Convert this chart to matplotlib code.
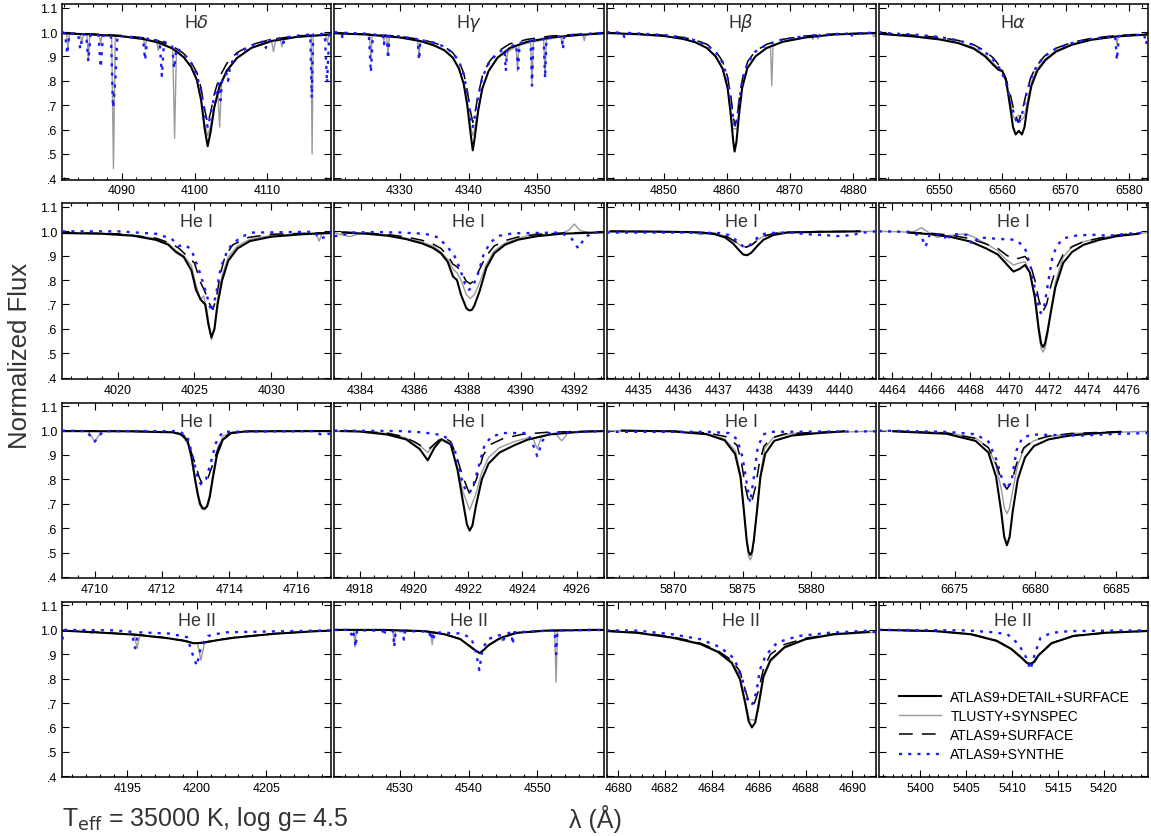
import matplotlib
matplotlib.use("Agg")
import matplotlib.pyplot as plt
from matplotlib.ticker import MultipleLocator, FixedLocator, FixedFormatter

plt.rcParams['font.family'] = ['Liberation Sans', 'DejaVu Sans']

# ---- line profiles, (wavelength [A], normalized flux) ----
# H delta
HD_DETAIL = [(4081.8, 0.995), (4086, 0.99), (4090, 0.983), (4093, 0.971), (4095, 0.957), (4097, 0.932),
             (4098.5, 0.897), (4099.5, 0.858), (4100.3, 0.805), (4100.9, 0.72), (4101.4, 0.60), (4101.8, 0.532),
             (4102.2, 0.59), (4102.7, 0.69), (4103.4, 0.775), (4104.4, 0.84), (4105.8, 0.893), (4107.8, 0.935),
             (4110.5, 0.963), (4114, 0.98), (4118.8, 0.99)]
HD_TLUSTY = [(4081.8, 0.995), (4082.4, 0.993), (4082.6, 0.935), (4082.8, 0.993), (4084.3, 0.99), (4084.5, 0.955),
             (4084.7, 0.99), (4085.2, 0.989), (4085.4, 0.885), (4085.6, 0.988), (4086.9, 0.987), (4087.1, 0.955),
             (4087.3, 0.986), (4088.6, 0.985), (4088.85, 0.44), (4089.1, 0.984), (4093.0, 0.972), (4093.2, 0.93),
             (4093.4, 0.97), (4094.8, 0.96), (4095.0, 0.925), (4095.2, 0.958), (4097.0, 0.932), (4097.25, 0.565),
             (4097.5, 0.925), (4098.5, 0.897), (4099.5, 0.858), (4100.3, 0.805), (4100.9, 0.725), (4101.4, 0.62),
             (4101.8, 0.575), (4102.2, 0.615), (4102.7, 0.69), (4103.2, 0.75), (4103.45, 0.61), (4103.7, 0.785),
             (4104.4, 0.84), (4105.8, 0.893), (4107.8, 0.935), (4110.6, 0.96), (4110.85, 0.92), (4111.1, 0.962),
             (4111.8, 0.967), (4112.0, 0.94), (4112.2, 0.968), (4114, 0.98), (4116.0, 0.985), (4116.15, 0.50),
             (4116.3, 0.986), (4118.0, 0.99), (4118.25, 0.96), (4118.5, 0.99), (4118.8, 0.99)]
HD_SURFACE = [(4081.8, 0.997), (4086, 0.992), (4090, 0.986), (4093, 0.976), (4095, 0.964), (4097, 0.942),
              (4098.5, 0.912), (4099.5, 0.878), (4100.3, 0.835), (4100.9, 0.77), (4101.4, 0.68), (4101.8, 0.625),
              (4102.2, 0.67), (4102.7, 0.745), (4103.4, 0.815), (4104.4, 0.87), (4105.8, 0.915), (4107.8, 0.948),
              (4110.5, 0.97), (4114, 0.984), (4118.8, 0.992)]
HD_SYNTHE = [(4081.8, 1.0), (4082.2, 0.995), (4082.5, 0.91), (4082.8, 0.995), (4084.0, 0.99), (4084.3, 0.93),
             (4084.6, 0.99), (4085.1, 0.99), (4085.4, 0.88), (4085.7, 0.99), (4086.8, 0.988), (4087.1, 0.855),
             (4087.4, 0.985), (4088.5, 0.985), (4088.8, 0.69), (4089.1, 0.80), (4089.4, 0.985), (4092.9, 0.975),
             (4093.2, 0.885), (4093.5, 0.973), (4095.2, 0.963), (4095.5, 0.82), (4095.8, 0.96), (4096.9, 0.945),
             (4097.2, 0.85), (4097.5, 0.935), (4098.5, 0.912), (4099.5, 0.875), (4100.3, 0.825), (4100.9, 0.755),
             (4101.4, 0.665), (4101.8, 0.61), (4102.2, 0.66), (4102.7, 0.735), (4103.3, 0.79), (4103.55, 0.72),
             (4103.8, 0.81), (4104.4, 0.83), (4104.6, 0.80), (4104.9, 0.865), (4105.8, 0.91), (4107.8, 0.945),
             (4109.5, 0.962), (4109.8, 0.935), (4110.1, 0.966), (4112, 0.975), (4112.2, 0.955), (4112.4, 0.977),
             (4114, 0.985), (4115.9, 0.99), (4116.1, 0.73), (4116.3, 0.99), (4117.9, 0.993), (4118.2, 0.79),
             (4118.5, 0.99), (4118.8, 0.995)]

# H gamma
HG_DETAIL = [(4320.5, 0.995), (4325, 0.99), (4330, 0.978), (4333, 0.963), (4335, 0.945), (4336.5, 0.925),
             (4337.7, 0.895), (4338.6, 0.85), (4339.3, 0.785), (4339.8, 0.70), (4340.3, 0.58), (4340.6, 0.515),
             (4340.9, 0.57), (4341.4, 0.68), (4342.0, 0.77), (4342.9, 0.84), (4344.2, 0.895), (4346, 0.935),
             (4348.5, 0.96), (4352, 0.978), (4356, 0.988), (4359.6, 0.995)]
HG_TLUSTY = [(4320.5, 0.996), (4321.5, 0.994), (4321.7, 0.985), (4321.9, 0.994), (4325.6, 0.99), (4325.8, 0.89),
             (4326.0, 0.99), (4327.5, 0.986), (4327.7, 0.965), (4327.9, 0.985), (4328.1, 0.985), (4328.3, 0.905),
             (4328.5, 0.984), (4330, 0.978), (4332.6, 0.966), (4332.8, 0.905), (4333.0, 0.964), (4335, 0.945),
             (4336.5, 0.925), (4337.7, 0.895), (4338.6, 0.85), (4339.3, 0.79), (4339.8, 0.71), (4340.3, 0.61),
             (4340.6, 0.575), (4340.9, 0.605), (4341.4, 0.685), (4342.0, 0.77), (4342.9, 0.84), (4344.2, 0.895),
             (4345.3, 0.915), (4345.5, 0.885), (4345.7, 0.92), (4346.9, 0.94), (4347.1, 0.84), (4347.3, 0.945),
             (4349.0, 0.958), (4349.2, 0.79), (4349.4, 0.96), (4350.9, 0.968), (4351.1, 0.82), (4351.3, 0.97),
             (4353.4, 0.98), (4353.6, 0.945), (4353.8, 0.982), (4356.6, 0.988), (4356.8, 0.965), (4357.0, 0.989),
             (4359.6, 0.995)]
HG_SURFACE = [(4320.5, 0.997), (4325, 0.992), (4330, 0.982), (4333, 0.97), (4335, 0.956), (4336.5, 0.94),
              (4337.7, 0.915), (4338.6, 0.88), (4339.3, 0.83), (4339.8, 0.76), (4340.3, 0.67), (4340.6, 0.63),
              (4340.9, 0.665), (4341.4, 0.745), (4342.0, 0.82), (4342.9, 0.875), (4344.2, 0.92), (4346, 0.952),
              (4348.5, 0.97), (4352, 0.984), (4356, 0.991), (4359.6, 0.996)]
HG_SYNTHE = [(4320.5, 1.0), (4321.5, 0.997), (4321.7, 0.975), (4321.9, 0.997), (4325.5, 0.993), (4325.8, 0.835),
             (4326.1, 0.99), (4327.5, 0.988), (4327.7, 0.95), (4327.9, 0.987), (4328.1, 0.985), (4328.3, 0.89),
             (4328.5, 0.985), (4330, 0.982), (4332.6, 0.97), (4332.8, 0.885), (4333.0, 0.968), (4335, 0.956),
             (4336.5, 0.94), (4337.7, 0.915), (4338.6, 0.88), (4339.3, 0.825), (4339.8, 0.75), (4340.3, 0.655),
             (4340.6, 0.61), (4340.9, 0.655), (4341.4, 0.74), (4342.0, 0.815), (4342.9, 0.87), (4344.2, 0.915),
             (4345.2, 0.93), (4345.4, 0.84), (4345.6, 0.935), (4346.9, 0.95), (4347.2, 0.85), (4347.4, 0.955),
             (4349.0, 0.965), (4349.2, 0.78), (4349.4, 0.966), (4350.9, 0.972), (4351.1, 0.81), (4351.3, 0.974),
             (4353.5, 0.983), (4353.7, 0.93), (4353.9, 0.985), (4356, 0.991), (4359.6, 0.996)]

# H beta
HB_DETAIL = [(4840.9, 0.996), (4846, 0.991), (4850, 0.984), (4853, 0.972), (4855, 0.958), (4856.8, 0.935),
             (4858.2, 0.9), (4859.3, 0.85), (4860.1, 0.77), (4860.6, 0.66), (4861.0, 0.55), (4861.2, 0.51),
             (4861.5, 0.55), (4861.9, 0.66), (4862.4, 0.77), (4863.2, 0.85), (4864.5, 0.9), (4866.3, 0.935),
             (4868.8, 0.96), (4872.5, 0.978), (4877, 0.99), (4883.6, 0.996)]
HB_TLUSTY = [(4840.9, 0.996), (4846, 0.991), (4850, 0.984), (4853, 0.972), (4855, 0.958), (4856.8, 0.935),
             (4858.2, 0.9), (4859.3, 0.852), (4860.1, 0.775), (4860.6, 0.68), (4860.9, 0.60), (4861.2, 0.605),
             (4861.6, 0.60), (4861.9, 0.67), (4862.4, 0.775), (4863.2, 0.852), (4864.5, 0.9), (4866.3, 0.933),
             (4866.9, 0.938), (4867.1, 0.78), (4867.3, 0.942), (4868.8, 0.96), (4872.5, 0.978), (4873.4, 0.982),
             (4873.6, 0.97), (4873.8, 0.983), (4874.2, 0.984), (4874.4, 0.972), (4874.6, 0.985), (4877, 0.99),
             (4883.0, 0.995), (4883.3, 0.98), (4883.6, 0.995)]
HB_SURFACE = [(4840.9, 0.997), (4846, 0.993), (4850, 0.987), (4853, 0.978), (4855, 0.967), (4856.8, 0.95),
              (4858.2, 0.922), (4859.3, 0.88), (4860.1, 0.815), (4860.6, 0.74), (4861.0, 0.65), (4861.3, 0.615),
              (4861.6, 0.65), (4862.0, 0.74), (4862.5, 0.815), (4863.3, 0.88), (4864.5, 0.922), (4866.3, 0.95),
              (4868.8, 0.97), (4872.5, 0.984), (4877, 0.992), (4883.6, 0.997)]
HB_SYNTHE = [(4840.9, 1.0), (4843.5, 0.997), (4843.7, 0.98), (4843.9, 0.997), (4846, 0.994), (4850, 0.988),
             (4853, 0.978), (4855, 0.966), (4856.8, 0.948), (4858.2, 0.918), (4859.3, 0.875), (4860.1, 0.81),
             (4860.6, 0.725), (4861.0, 0.64), (4861.3, 0.61), (4861.6, 0.64), (4862.0, 0.73), (4862.5, 0.81),
             (4863.3, 0.875), (4864.5, 0.92), (4866.3, 0.948), (4868.8, 0.97), (4871.5, 0.98), (4871.7, 0.97),
             (4871.9, 0.982), (4874.3, 0.988), (4874.5, 0.975), (4874.7, 0.988), (4877, 0.992), (4879.5, 0.994),
             (4879.7, 0.98), (4879.9, 0.994), (4883.6, 0.998)]

# H alpha
HA_DETAIL = [(6540.5, 0.993), (6542, 0.99), (6546, 0.982), (6550, 0.97), (6553, 0.955), (6555.5, 0.932),
             (6557.3, 0.9), (6558.6, 0.865), (6559.4, 0.845), (6560.0, 0.84), (6560.6, 0.80), (6561.2, 0.70),
             (6561.7, 0.61), (6562.1, 0.58), (6562.6, 0.595), (6563.1, 0.58), (6563.5, 0.61), (6564.0, 0.70),
             (6564.6, 0.78), (6565.5, 0.84), (6566.8, 0.885), (6568.5, 0.92), (6571, 0.948), (6574, 0.968),
             (6578, 0.982), (6583.0, 0.99)]
HA_TLUSTY = [(6540.5, 0.994), (6542, 0.991), (6546, 0.984), (6550, 0.972), (6553, 0.958), (6555.5, 0.936),
             (6557.3, 0.905), (6558.6, 0.872), (6559.4, 0.852), (6560.0, 0.845), (6560.6, 0.81), (6561.2, 0.72),
             (6561.7, 0.655), (6562.1, 0.64), (6562.6, 0.66), (6563.1, 0.64), (6563.5, 0.655), (6564.0, 0.72),
             (6564.6, 0.795), (6565.5, 0.85), (6566.8, 0.89), (6568.5, 0.925), (6571, 0.951), (6574, 0.97),
             (6577.9, 0.982), (6578.1, 0.95), (6578.3, 0.983), (6583.0, 0.992)]
HA_SURFACE = [(6540.5, 0.995), (6542, 0.993), (6546, 0.987), (6550, 0.978), (6553, 0.966), (6555.5, 0.948),
              (6557.3, 0.922), (6558.6, 0.893), (6559.6, 0.86), (6560.5, 0.815), (6561.3, 0.74), (6561.9, 0.67),
              (6562.5, 0.63), (6563.1, 0.67), (6563.7, 0.74), (6564.5, 0.815), (6565.4, 0.86), (6566.6, 0.9),
              (6568.3, 0.932), (6571, 0.958), (6574, 0.974), (6578, 0.986), (6583.0, 0.993)]
HA_SYNTHE = [(6540.5, 1.0), (6542, 0.995), (6546, 0.99), (6550, 0.98), (6553, 0.966), (6555.5, 0.947),
             (6557.3, 0.918), (6558.6, 0.885), (6559.6, 0.85), (6560.5, 0.8), (6561.3, 0.72), (6561.9, 0.655),
             (6562.5, 0.62), (6563.1, 0.66), (6563.7, 0.735), (6564.5, 0.81), (6565.4, 0.86), (6566.6, 0.9),
             (6568.3, 0.93), (6571, 0.955), (6574, 0.972), (6577.8, 0.983), (6578.1, 0.885), (6578.4, 0.984),
             (6582.4, 0.99), (6582.7, 0.95), (6583.0, 0.99)]

# He I 4026
HE4026_DETAIL = [(4016.4, 0.993), (4019, 0.99), (4021, 0.982), (4022.5, 0.965), (4023.3, 0.945), (4023.8, 0.915),
                 (4024.3, 0.895), (4024.8, 0.84), (4025.1, 0.76), (4025.4, 0.72), (4025.7, 0.70), (4025.9, 0.62),
                 (4026.1, 0.565), (4026.3, 0.60), (4026.5, 0.70), (4026.8, 0.80), (4027.2, 0.88), (4027.8, 0.93),
                 (4028.6, 0.96), (4030, 0.978), (4032, 0.988), (4033.9, 0.993)]
HE4026_TLUSTY = [(4016.4, 0.995), (4019, 0.992), (4021, 0.985), (4022.5, 0.97), (4023.3, 0.95), (4023.8, 0.92),
                 (4024.3, 0.90), (4024.8, 0.86), (4025.1, 0.78), (4025.4, 0.72), (4025.6, 0.735), (4025.8, 0.68),
                 (4026.1, 0.555), (4026.3, 0.60), (4026.5, 0.72), (4026.8, 0.82), (4027.2, 0.895), (4027.8, 0.94),
                 (4028.6, 0.967), (4030, 0.983), (4032, 0.99), (4032.9, 0.993), (4033.1, 0.96), (4033.3, 0.993),
                 (4033.9, 0.995)]
HE4026_SURFACE = [(4016.4, 0.995), (4020, 0.99), (4022.5, 0.972), (4023.5, 0.95), (4024.0, 0.93), (4024.5, 0.90),
                  (4025.0, 0.87), (4025.4, 0.79), (4025.7, 0.75), (4026.0, 0.70), (4026.2, 0.68), (4026.4, 0.72),
                  (4026.7, 0.83), (4027.0, 0.90), (4027.5, 0.945), (4028.5, 0.975), (4030, 0.988), (4033.9, 0.995)]
HE4026_SYNTHE = [(4016.4, 1.0), (4020, 1.0), (4022.5, 0.99), (4023.5, 0.97), (4024.0, 0.94), (4024.4, 0.944),
                 (4024.8, 0.925), (4025.3, 0.84), (4025.7, 0.76), (4026.1, 0.67), (4026.4, 0.74), (4026.7, 0.85),
                 (4027.2, 0.93), (4028.0, 0.977), (4028.8, 0.995), (4032.8, 0.998), (4033.1, 0.97), (4033.4, 0.975),
                 (4033.9, 0.998)]

# He I 4388
HE4388_DETAIL = [(4383.3, 0.995), (4384.2, 0.99), (4385.0, 0.982), (4385.7, 0.968), (4386.3, 0.95), (4386.7, 0.932),
                 (4387.0, 0.91), (4387.25, 0.875), (4387.45, 0.815), (4387.6, 0.80), (4387.75, 0.74), (4387.95, 0.685),
                 (4388.05, 0.676), (4388.15, 0.677), (4388.25, 0.695), (4388.45, 0.755), (4388.7, 0.85),
                 (4389.0, 0.91), (4389.4, 0.945), (4389.9, 0.966), (4390.6, 0.98), (4391.5, 0.99), (4393.1, 0.996)]
HE4388_TLUSTY = [(4383.0, 0.995), (4383.3, 0.985), (4383.6, 0.978), (4383.9, 0.99), (4384.2, 0.992), (4385.0, 0.985),
                 (4385.7, 0.972), (4386.3, 0.955), (4386.7, 0.94), (4387.0, 0.915), (4387.25, 0.885), (4387.45, 0.845),
                 (4387.6, 0.83), (4387.75, 0.80), (4387.95, 0.74), (4388.1, 0.725), (4388.25, 0.74), (4388.45, 0.79),
                 (4388.7, 0.865), (4389.0, 0.92), (4389.4, 0.952), (4389.9, 0.97), (4390.3, 0.985), (4390.6, 0.99),
                 (4390.9, 0.985), (4391.5, 0.99), (4391.8, 1.005), (4392.0, 1.03), (4392.2, 1.005), (4392.5, 0.995),
                 (4393.1, 0.997)]
HE4388_SURFACE = [(4383.3, 0.997), (4384.2, 0.993), (4385.0, 0.987), (4385.7, 0.977), (4386.3, 0.963),
                  (4386.7, 0.948), (4387.0, 0.93), (4387.25, 0.9), (4387.45, 0.865), (4387.6, 0.855), (4387.75, 0.835),
                  (4387.95, 0.795), (4388.1, 0.785), (4388.25, 0.8), (4388.45, 0.845), (4388.7, 0.9), (4389.0, 0.94),
                  (4389.4, 0.962), (4389.9, 0.977), (4390.6, 0.987), (4391.5, 0.993), (4393.1, 0.997)]
HE4388_SYNTHE = [(4383.0, 0.98), (4383.3, 0.985), (4383.6, 0.995), (4384.5, 0.997), (4385.5, 0.995), (4386.4, 0.99),
                 (4386.9, 0.975), (4387.25, 0.935), (4387.5, 0.9), (4387.7, 0.85), (4387.9, 0.785), (4388.05, 0.76),
                 (4388.2, 0.775), (4388.4, 0.83), (4388.6, 0.905), (4388.85, 0.955), (4389.2, 0.982), (4389.7, 0.992),
                 (4391.5, 0.995), (4391.9, 0.97), (4392.15, 0.93), (4392.4, 0.975), (4392.7, 0.995), (4393.1, 0.997)]

# He I 4437
HE4437_DETAIL = [(4434.3, 1.0), (4435.5, 0.999), (4436.5, 0.996), (4436.9, 0.988), (4437.15, 0.975),
                 (4437.35, 0.95), (4437.5, 0.922), (4437.6, 0.905), (4437.7, 0.902), (4437.8, 0.912), (4437.95, 0.94),
                 (4438.1, 0.965), (4438.35, 0.985), (4438.7, 0.995), (4439.5, 0.998), (4440.5, 1.0)]
HE4437_TLUSTY = [(4434.2, 0.999), (4436.3, 0.997), (4436.55, 0.986), (4436.75, 0.996), (4436.95, 0.99),
                 (4437.2, 0.978), (4437.4, 0.958), (4437.55, 0.94), (4437.68, 0.937), (4437.82, 0.947),
                 (4437.95, 0.964), (4438.15, 0.984), (4438.5, 0.996), (4440.9, 1.0)]
HE4437_SURFACE = [(4434.3, 1.0), (4436.5, 0.997), (4436.95, 0.99), (4437.2, 0.978), (4437.4, 0.958), (4437.55, 0.94),
                  (4437.68, 0.935), (4437.82, 0.945), (4437.95, 0.962), (4438.15, 0.982), (4438.5, 0.995),
                  (4439.5, 0.999), (4440.5, 1.0)]
HE4437_SYNTHE = [(4434.2, 0.995), (4436, 0.995), (4437.0, 0.993), (4437.25, 0.985), (4437.45, 0.96), (4437.6, 0.938),
                 (4437.7, 0.935), (4437.85, 0.955), (4438.0, 0.983), (4438.2, 0.993), (4438.8, 0.995), (4439.2, 0.988),
                 (4439.6, 0.985), (4440.0, 0.98), (4440.3, 0.985), (4440.6, 0.995), (4440.9, 1.0)]

# He I 4471
HE4471_DETAIL = [(4464.8, 0.995), (4466, 0.988), (4467, 0.977), (4468, 0.958), (4468.8, 0.93), (4469.4, 0.905),
                 (4469.8, 0.87), (4470.2, 0.835), (4470.5, 0.845), (4470.8, 0.862), (4471.05, 0.83), (4471.3, 0.73),
                 (4471.5, 0.60), (4471.62, 0.54), (4471.72, 0.525), (4471.82, 0.54), (4471.95, 0.59), (4472.1, 0.66),
                 (4472.35, 0.77), (4472.75, 0.87), (4473.2, 0.915), (4473.8, 0.945), (4474.6, 0.965), (4475.5, 0.98),
                 (4476.6, 0.99)]
HE4471_TLUSTY = [(4463.3, 1.0), (4464.5, 0.998), (4465.0, 0.995), (4465.5, 1.015), (4465.8, 0.998), (4466.3, 0.975),
                 (4466.6, 0.98), (4467.0, 0.984), (4467.8, 0.99), (4468.2, 0.975), (4468.8, 0.95), (4469.4, 0.92),
                 (4469.8, 0.885), (4470.2, 0.862), (4470.5, 0.87), (4470.8, 0.875), (4471.05, 0.83), (4471.3, 0.72),
                 (4471.5, 0.58), (4471.62, 0.52), (4471.72, 0.505), (4471.82, 0.52), (4471.95, 0.575), (4472.1, 0.66),
                 (4472.35, 0.79), (4472.75, 0.895), (4473.2, 0.935), (4473.8, 0.958), (4474.6, 0.972),
                 (4475.5, 0.984), (4477.1, 0.995)]
HE4471_SURFACE = [(4464.8, 0.996), (4466, 0.992), (4467, 0.984), (4468, 0.97), (4468.8, 0.948), (4469.4, 0.93),
                  (4469.8, 0.905), (4470.2, 0.885), (4470.5, 0.89), (4470.8, 0.897), (4471.05, 0.87), (4471.3, 0.8),
                  (4471.5, 0.72), (4471.7, 0.67), (4471.9, 0.70), (4472.1, 0.77), (4472.35, 0.84), (4472.75, 0.905),
                  (4473.2, 0.937), (4473.8, 0.958), (4474.6, 0.972), (4475.5, 0.984), (4476.6, 0.992)]
HE4471_SYNTHE = [(4463.3, 1.0), (4465.0, 0.998), (4465.5, 0.975), (4465.7, 0.937), (4465.9, 0.985), (4466.6, 0.99),
                 (4466.8, 0.96), (4467.0, 0.99), (4467.8, 0.985), (4468.1, 0.945), (4468.4, 0.975), (4469.0, 0.972),
                 (4469.5, 0.968), (4470.0, 0.968), (4470.4, 0.962), (4470.8, 0.93), (4471.1, 0.85), (4471.4, 0.72),
                 (4471.6, 0.665), (4471.8, 0.70), (4472.0, 0.80), (4472.2, 0.895), (4472.45, 0.944), (4472.8, 0.972),
                 (4473.5, 0.984), (4474.5, 0.986), (4475, 0.982), (4475.5, 0.985), (4476, 0.99), (4477.1, 0.995)]

# He I 4713
HE4713_DETAIL = [(4709.03, 0.998), (4711, 0.997), (4712.3, 0.993), (4712.55, 0.985), (4712.75, 0.962),
                 (4712.88, 0.89), (4712.98, 0.80), (4713.06, 0.74), (4713.13, 0.70), (4713.2, 0.683),
                 (4713.27, 0.68), (4713.34, 0.69), (4713.42, 0.73), (4713.5, 0.80), (4713.63, 0.9), (4713.8, 0.962),
                 (4714.05, 0.99), (4714.5, 0.997), (4717.03, 0.998)]
HE4713_TLUSTY = [(4709.03, 1.0), (4709.8, 0.998), (4710.0, 0.955), (4710.2, 0.998), (4712.3, 0.995), (4712.6, 0.98),
                 (4712.78, 0.94), (4712.92, 0.84), (4713.02, 0.76), (4713.1, 0.70), (4713.18, 0.678),
                 (4713.25, 0.675), (4713.32, 0.688), (4713.4, 0.73), (4713.52, 0.83), (4713.65, 0.93),
                 (4713.82, 0.978), (4714.1, 0.995), (4717.03, 1.0)]
HE4713_SURFACE = [(4709.03, 0.999), (4711, 0.998), (4712.4, 0.994), (4712.65, 0.98), (4712.82, 0.93),
                  (4712.97, 0.87), (4713.1, 0.81), (4713.18, 0.785), (4713.26, 0.78), (4713.35, 0.80), (4713.5, 0.86),
                  (4713.62, 0.91), (4713.78, 0.962), (4714.0, 0.988), (4714.5, 0.997), (4717.03, 0.999)]
HE4713_SYNTHE = [(4709.03, 1.0), (4709.75, 0.998), (4710.0, 0.955), (4710.25, 0.998), (4712.5, 0.998),
                 (4712.75, 0.975), (4712.9, 0.9), (4713.05, 0.81), (4713.15, 0.78), (4713.3, 0.80), (4713.45, 0.87),
                 (4713.6, 0.95), (4713.8, 0.995), (4716.5, 0.998), (4716.7, 0.985), (4716.85, 0.99), (4717.03, 0.985)]

# He I 4922
HE4922_DETAIL = [(4917.3, 0.998), (4918.0, 0.996), (4919.0, 0.984), (4919.7, 0.964), (4920.2, 0.925), (4920.5, 0.878),
                 (4920.75, 0.93), (4921.0, 0.965), (4921.35, 0.944), (4921.6, 0.84), (4921.8, 0.71), (4921.95, 0.615),
                 (4922.05, 0.59), (4922.15, 0.61), (4922.28, 0.69), (4922.5, 0.80), (4922.75, 0.865), (4923.15, 0.91),
                 (4923.7, 0.94), (4924.2, 0.963), (4925.0, 0.984), (4926.1, 0.995), (4927.0, 0.998)]
HE4922_TLUSTY = [(4917.05, 0.999), (4918.0, 0.997), (4919.0, 0.988), (4919.7, 0.97), (4920.2, 0.94), (4920.5, 0.91),
                 (4920.75, 0.945), (4921.05, 0.96), (4921.35, 0.94), (4921.6, 0.85), (4921.8, 0.75), (4922.05, 0.675),
                 (4922.28, 0.74), (4922.5, 0.83), (4922.75, 0.89), (4923.15, 0.93), (4923.7, 0.955), (4924.2, 0.97),
                 (4924.4, 0.965), (4924.55, 0.925), (4924.7, 0.975), (4925.2, 0.99), (4925.45, 0.958),
                 (4925.7, 0.993), (4926.2, 0.996), (4927.0, 0.998)]
HE4922_SURFACE = [(4917.3, 0.999), (4918.0, 0.997), (4919.0, 0.99), (4919.5, 0.978), (4920.0, 0.955),
                  (4920.3, 0.935), (4920.55, 0.925), (4920.8, 0.95), (4921.05, 0.975), (4921.35, 0.955),
                  (4921.55, 0.9), (4921.8, 0.81), (4922.05, 0.74), (4922.3, 0.80), (4922.55, 0.9), (4922.85, 0.945),
                  (4923.3, 0.968), (4924.0, 0.985), (4925, 0.994), (4927.0, 0.998)]
HE4922_SYNTHE = [(4917.05, 1.0), (4919.5, 0.998), (4920.3, 0.993), (4920.8, 0.985), (4921.05, 0.982), (4921.3, 0.96),
                 (4921.5, 0.92), (4921.7, 0.82), (4921.9, 0.755), (4922.05, 0.745), (4922.2, 0.78), (4922.4, 0.86),
                 (4922.6, 0.94), (4922.85, 0.975), (4923.3, 0.99), (4924.2, 0.99), (4924.4, 0.94), (4924.55, 0.895),
                 (4924.75, 0.96), (4925.0, 0.99), (4927.0, 0.998)]

# He I 5876
HE5876_DETAIL = [(5866.2, 1.0), (5869.8, 0.997), (5872.4, 0.985), (5873.7, 0.96), (5874.45, 0.905), (5874.85, 0.81),
                 (5875.1, 0.67), (5875.3, 0.55), (5875.43, 0.503), (5875.56, 0.49), (5875.69, 0.503),
                 (5875.82, 0.55), (5876.05, 0.67), (5876.3, 0.81), (5876.65, 0.905), (5877.3, 0.958), (5878.6, 0.98),
                 (5880.6, 0.99), (5882.4, 0.997)]
HE5876_TLUSTY = [(5865.1, 1.0), (5869.8, 0.998), (5872.4, 0.988), (5873.7, 0.966), (5874.5, 0.915), (5874.88, 0.81),
                 (5875.12, 0.66), (5875.32, 0.54), (5875.44, 0.485), (5875.56, 0.47), (5875.68, 0.485),
                 (5875.8, 0.54), (5876.02, 0.66), (5876.28, 0.81), (5876.6, 0.925), (5877.2, 0.97), (5878.5, 0.988),
                 (5884.7, 0.998)]
HE5876_SURFACE = [(5866.2, 1.0), (5870, 0.998), (5872.5, 0.99), (5873.8, 0.975), (5874.6, 0.94), (5874.95, 0.86),
                  (5875.2, 0.77), (5875.4, 0.72), (5875.56, 0.70), (5875.72, 0.72), (5875.95, 0.77), (5876.2, 0.86),
                  (5876.55, 0.935), (5877.1, 0.97), (5878.1, 0.987), (5882.4, 0.998)]
HE5876_SYNTHE = [(5865.1, 0.995), (5872.5, 0.995), (5874.0, 0.99), (5874.6, 0.965), (5875.0, 0.89), (5875.3, 0.785),
                 (5875.55, 0.705), (5875.8, 0.80), (5876.1, 0.93), (5876.5, 0.984), (5877.0, 0.995), (5884.7, 0.997)]

# He I 6678
HE6678_DETAIL = [(6671.2, 0.997), (6674.5, 0.987), (6676.3, 0.958), (6677.1, 0.91), (6677.58, 0.81), (6677.9, 0.665),
                 (6678.08, 0.565), (6678.25, 0.53), (6678.42, 0.565), (6678.6, 0.665), (6678.92, 0.80),
                 (6679.37, 0.89), (6679.93, 0.937), (6680.83, 0.964), (6682.17, 0.98), (6684, 0.99), (6685.3, 0.995)]
HE6678_TLUSTY = [(6670.3, 1.0), (6674.5, 0.992), (6676.3, 0.97), (6677.1, 0.93), (6677.55, 0.86), (6677.9, 0.76),
                 (6678.1, 0.68), (6678.25, 0.66), (6678.4, 0.68), (6678.6, 0.75), (6678.9, 0.855), (6679.3, 0.925),
                 (6679.9, 0.958), (6680.8, 0.975), (6682.2, 0.988), (6687.0, 0.997)]
HE6678_SURFACE = [(6671.2, 0.998), (6674.5, 0.99), (6676.3, 0.968), (6677.1, 0.93), (6677.6, 0.86), (6677.95, 0.79),
                  (6678.25, 0.76), (6678.55, 0.79), (6678.85, 0.865), (6679.3, 0.93), (6679.9, 0.96), (6680.8, 0.977),
                  (6682.2, 0.988), (6685.3, 0.996)]
HE6678_SYNTHE = [(6670.3, 1.0), (6674.5, 0.995), (6676.3, 0.985), (6677.1, 0.955), (6677.6, 0.88), (6678.0, 0.79),
                 (6678.25, 0.76), (6678.55, 0.80), (6678.85, 0.92), (6679.2, 0.97), (6679.8, 0.984), (6681, 0.982),
                 (6683, 0.98), (6684.5, 0.985), (6687.0, 0.99)]

# He II 4200
HE4200_DETAIL = [(4190.3, 0.997), (4192.7, 0.99), (4195.6, 0.98), (4197.9, 0.966), (4199.1, 0.955), (4199.8, 0.945),
                 (4200.4, 0.947), (4201.5, 0.958), (4202.7, 0.968), (4205.6, 0.984), (4208.4, 0.994), (4209.7, 0.997)]
HE4200_TLUSTY = [(4190.3, 0.998), (4192.2, 0.991), (4192.4, 0.985), (4192.6, 0.99), (4195.5, 0.981), (4195.7, 0.924),
                 (4195.9, 0.979), (4197.9, 0.966), (4199.1, 0.955), (4199.8, 0.946), (4200.05, 0.946), (4200.3, 0.876),
                 (4200.55, 0.946), (4201.5, 0.958), (4202.7, 0.968), (4205.6, 0.984), (4208.4, 0.994), (4209.7, 0.997)]
HE4200_SURFACE = [(4190.3, 0.997), (4192.7, 0.991), (4195.6, 0.981), (4197.9, 0.967), (4199.1, 0.956),
                  (4199.8, 0.946), (4200.4, 0.948), (4201.5, 0.959), (4202.7, 0.969), (4205.6, 0.985),
                  (4208.4, 0.994), (4209.7, 0.997)]
HE4200_SYNTHE = [(4190.3, 0.96), (4190.5, 1.0), (4194, 0.998), (4195.3, 0.992), (4195.55, 0.925), (4195.8, 0.99),
                 (4198, 0.985), (4199.3, 0.97), (4199.7, 0.9), (4200.0, 0.853), (4200.3, 0.93), (4200.8, 0.975),
                 (4202, 0.99), (4209.7, 0.998)]

# He II 4541
HE4541_DETAIL = [(4520.5, 1.0), (4527.6, 1.0), (4533.5, 0.995), (4536.5, 0.982), (4538.8, 0.962), (4540.3, 0.93),
                 (4541.0, 0.915), (4541.6, 0.905), (4542.2, 0.918), (4542.9, 0.937), (4544.7, 0.968), (4547, 0.988),
                 (4551.2, 0.997), (4559.6, 1.0)]
HE4541_TLUSTY = [(4520.5, 1.0), (4523.3, 0.999), (4523.5, 0.93), (4523.7, 0.999), (4529.0, 0.998), (4529.2, 0.94),
                 (4529.4, 0.998), (4530.4, 0.997), (4530.6, 0.985), (4530.8, 0.997), (4534.5, 0.994), (4534.7, 0.94),
                 (4534.9, 0.993), (4536.5, 0.982), (4538.8, 0.962), (4540.3, 0.93), (4541.0, 0.915), (4541.6, 0.905),
                 (4542.2, 0.918), (4542.9, 0.937), (4544.6, 0.966), (4544.9, 0.955), (4545.2, 0.97), (4547, 0.988),
                 (4552.5, 0.998), (4552.7, 0.785), (4552.9, 0.998), (4557, 1.0), (4557.5, 1.003), (4559.6, 1.0)]
HE4541_SURFACE = [(4520.5, 1.0), (4527.6, 1.0), (4533.5, 0.995), (4536.5, 0.983), (4538.8, 0.963), (4540.3, 0.931),
                  (4541.0, 0.916), (4541.6, 0.906), (4542.2, 0.919), (4542.9, 0.938), (4544.7, 0.969), (4547, 0.988),
                  (4551.2, 0.997), (4559.6, 1.0)]
HE4541_SYNTHE = [(4520.5, 1.0), (4522.7, 1.0), (4523.0, 0.98), (4523.2, 0.998), (4523.4, 0.97), (4523.6, 0.93),
                 (4523.8, 0.998), (4527.5, 0.997), (4527.7, 0.975), (4527.9, 0.997), (4529.0, 0.996), (4529.2, 0.93),
                 (4529.4, 0.995), (4530.4, 0.995), (4530.6, 0.96), (4530.8, 0.995), (4534.3, 0.993), (4534.5, 0.96),
                 (4534.7, 0.985), (4534.9, 0.965), (4535.1, 0.99), (4539, 0.985), (4540.4, 0.965), (4541.1, 0.905),
                 (4541.55, 0.835), (4542.0, 0.92), (4542.8, 0.962), (4544.9, 0.982), (4545.1, 0.96), (4545.3, 0.983),
                 (4546.2, 0.99), (4546.4, 0.94), (4546.6, 0.99), (4552.5, 0.998), (4552.7, 0.90), (4552.9, 0.998),
                 (4559.6, 1.0)]

# He II 4686
HE4686_DETAIL = [(4679.5, 0.995), (4680.8, 0.988), (4682.3, 0.968), (4683.5, 0.942), (4684.25, 0.91),
                 (4684.85, 0.864), (4685.2, 0.797), (4685.42, 0.70), (4685.57, 0.625), (4685.71, 0.60),
                 (4685.85, 0.62), (4685.97, 0.68), (4686.2, 0.81), (4686.5, 0.876), (4687.1, 0.929), (4688.0, 0.962),
                 (4689.2, 0.982), (4690.7, 0.992)]
HE4686_TLUSTY = [(4679.5, 0.995), (4680.8, 0.988), (4682.3, 0.97), (4683.5, 0.945), (4684.25, 0.912), (4684.85, 0.87),
                 (4685.2, 0.81), (4685.45, 0.70), (4685.6, 0.632), (4685.85, 0.63), (4686.0, 0.68), (4686.2, 0.80),
                 (4686.5, 0.87), (4687.1, 0.925), (4688.0, 0.96), (4689.2, 0.98), (4691.0, 0.99)]
HE4686_SURFACE = [(4679.5, 0.996), (4680.8, 0.99), (4682.3, 0.972), (4683.5, 0.946), (4684.25, 0.915),
                  (4684.85, 0.875), (4685.2, 0.83), (4685.45, 0.745), (4685.6, 0.70), (4685.71, 0.69),
                  (4685.82, 0.70), (4685.97, 0.745), (4686.2, 0.84), (4686.5, 0.9), (4687.1, 0.94), (4688.0, 0.966),
                  (4689.2, 0.983), (4690.7, 0.992)]
HE4686_SYNTHE = [(4679.5, 0.998), (4680.8, 0.997), (4682.3, 0.982), (4683.5, 0.962), (4684.35, 0.929),
                 (4684.95, 0.883), (4685.3, 0.797), (4685.5, 0.718), (4685.71, 0.692), (4685.9, 0.745),
                 (4686.05, 0.837), (4686.3, 0.896), (4686.8, 0.949), (4687.7, 0.975), (4689, 0.988), (4690.7, 0.997),
                 (4691.0, 0.99)]

# He II 5411
HE5411_DETAIL = [(5395.6, 1.0), (5401.6, 0.995), (5405.5, 0.982), (5408.3, 0.955), (5409.9, 0.922), (5411.1, 0.883),
                 (5411.6, 0.865), (5412.0, 0.86), (5412.4, 0.868), (5412.9, 0.896), (5414.3, 0.945), (5416.7, 0.975),
                 (5420.2, 0.988), (5424.6, 0.995)]
HE5411_TLUSTY = [(5395.5, 1.0), (5401.6, 0.996), (5405.5, 0.984), (5408.3, 0.958), (5409.9, 0.925), (5411.1, 0.886),
                 (5411.6, 0.868), (5412.0, 0.863), (5412.4, 0.871), (5412.9, 0.899), (5414.3, 0.947), (5416.7, 0.976),
                 (5420.2, 0.989), (5424.8, 0.997)]
HE5411_SURFACE = [(5395.6, 1.0), (5401.6, 0.995), (5405.5, 0.983), (5408.3, 0.956), (5409.9, 0.923), (5411.1, 0.884),
                  (5411.6, 0.866), (5412.0, 0.861), (5412.4, 0.869), (5412.9, 0.897), (5414.3, 0.946), (5416.7, 0.976),
                  (5420.2, 0.988), (5424.6, 0.995)]
HE5411_SYNTHE = [(5395.5, 1.0), (5405, 0.998), (5408, 0.99), (5409.5, 0.982), (5410.7, 0.942), (5411.5, 0.89),
                 (5412.0, 0.837), (5412.5, 0.903), (5413.1, 0.968), (5414.3, 0.988), (5416.3, 0.995), (5424.8, 0.998)]

MODEL_NAMES = ["ATLAS9+DETAIL+SURFACE", "TLUSTY+SYNSPEC", "ATLAS9+SURFACE", "ATLAS9+SYNTHE"]
Y_TICKS = [0.4, 0.5, 0.6, 0.7, 0.8, 0.9, 1.0, 1.1]
Y_TICK_LABELS = [".4", ".5", ".6", ".7", ".8", ".9", "1.0", "1.1"]

# title, x range, labelled wavelengths, minor step, profiles (detail, tlusty, surface, synthe)
PANELS = [
    (r"H$\delta$", (4081.8, 4118.8), [4090, 4100, 4110], 2, HD_DETAIL, HD_TLUSTY, HD_SURFACE, HD_SYNTHE),
    (r"H$\gamma$", (4320.5, 4359.6), [4330, 4340, 4350], 2, HG_DETAIL, HG_TLUSTY, HG_SURFACE, HG_SYNTHE),
    (r"H$\beta$", (4840.9, 4883.6), [4850, 4860, 4870, 4880], 2, HB_DETAIL, HB_TLUSTY, HB_SURFACE, HB_SYNTHE),
    (r"H$\alpha$", (6540.5, 6583.0), [6550, 6560, 6570, 6580], 2, HA_DETAIL, HA_TLUSTY, HA_SURFACE, HA_SYNTHE),
    ("He I", (4016.4, 4033.9), [4020, 4025, 4030], 1,
     HE4026_DETAIL, HE4026_TLUSTY, HE4026_SURFACE, HE4026_SYNTHE),
    ("He I", (4383.0, 4393.1), [4384, 4386, 4388, 4390, 4392], 0.5,
     HE4388_DETAIL, HE4388_TLUSTY, HE4388_SURFACE, HE4388_SYNTHE),
    ("He I", (4434.2, 4440.9), [4435, 4436, 4437, 4438, 4439, 4440], 0.2,
     HE4437_DETAIL, HE4437_TLUSTY, HE4437_SURFACE, HE4437_SYNTHE),
    ("He I", (4463.3, 4477.1), [4464, 4466, 4468, 4470, 4472, 4474, 4476], 0.5,
     HE4471_DETAIL, HE4471_TLUSTY, HE4471_SURFACE, HE4471_SYNTHE),
    ("He I", (4709.03, 4717.03), [4710, 4712, 4714, 4716], 0.5,
     HE4713_DETAIL, HE4713_TLUSTY, HE4713_SURFACE, HE4713_SYNTHE),
    ("He I", (4917.05, 4927.0), [4918, 4920, 4922, 4924, 4926], 0.5,
     HE4922_DETAIL, HE4922_TLUSTY, HE4922_SURFACE, HE4922_SYNTHE),
    ("He I", (5865.1, 5884.7), [5870, 5875, 5880], 1,
     HE5876_DETAIL, HE5876_TLUSTY, HE5876_SURFACE, HE5876_SYNTHE),
    ("He I", (6670.3, 6687.0), [6675, 6680, 6685], 1,
     HE6678_DETAIL, HE6678_TLUSTY, HE6678_SURFACE, HE6678_SYNTHE),
    ("He II", (4190.3, 4209.7), [4195, 4200, 4205], 1,
     HE4200_DETAIL, HE4200_TLUSTY, HE4200_SURFACE, HE4200_SYNTHE),
    ("He II", (4520.5, 4559.6), [4530, 4540, 4550], 2,
     HE4541_DETAIL, HE4541_TLUSTY, HE4541_SURFACE, HE4541_SYNTHE),
    ("He II", (4679.5, 4691.0), [4680, 4682, 4684, 4686, 4688, 4690], 0.5,
     HE4686_DETAIL, HE4686_TLUSTY, HE4686_SURFACE, HE4686_SYNTHE),
    ("He II", (5395.5, 5424.8), [5400, 5405, 5410, 5415, 5420], 1,
     HE5411_DETAIL, HE5411_TLUSTY, HE5411_SURFACE, HE5411_SYNTHE),
]

STYLES = [
    dict(color="black", lw=1.5, zorder=3),
    dict(color="#9a9a9a", lw=1.0, zorder=2),
    dict(color="black", lw=1.1, linestyle=(0, (9, 6)), zorder=4),
    dict(color="#1a1aff", lw=1.7, linestyle=(0, (1.3, 2.6)), zorder=5),
]
DRAW_ORDER = [1, 0, 2, 3]

fig, axes = plt.subplots(4, 4, figsize=(11.51, 8.37), dpi=100)
fig.subplots_adjust(left=0.054, right=0.9974, top=0.994, bottom=0.070, wspace=0.011, hspace=0.135)

handles = [None] * 4
for i, (ax, panel) in enumerate(zip(axes.flat, PANELS)):
    title, xlim, xticks, minor = panel[:4]
    profiles = panel[4:]
    for k in DRAW_ORDER:
        wave, flux = zip(*profiles[k])
        line, = ax.plot(wave, flux, label=MODEL_NAMES[k], **STYLES[k])
        handles[k] = line

    ax.set_xlim(*xlim)
    ax.set_ylim(0.395, 1.115)
    ax.xaxis.set_major_locator(FixedLocator(xticks))
    ax.xaxis.set_major_formatter(FixedFormatter([str(t) for t in xticks]))
    ax.xaxis.set_minor_locator(MultipleLocator(minor))
    ax.yaxis.set_major_locator(FixedLocator(Y_TICKS))
    if i % 4 == 0:
        ax.yaxis.set_major_formatter(FixedFormatter(Y_TICK_LABELS))
    else:
        ax.set_yticklabels([])
    ax.tick_params(which="both", direction="in", top=True, right=True, labelsize=9, width=0.8)
    ax.tick_params(which="major", length=5)
    ax.tick_params(which="minor", length=2.5)
    for s in ax.spines.values():
        s.set_linewidth(1.1)
    ax.text(0.5, 0.895, title, transform=ax.transAxes, ha="center", va="center", fontsize=13, color="#333333")

axes[3, 3].legend(handles=handles, loc="upper left", bbox_to_anchor=(0.075, 0.50), frameon=False,
                  fontsize=10, handlelength=3.0, handletextpad=0.7, labelspacing=0.38,
                  borderpad=0.0, borderaxespad=0.0)

fig.text(0.017, 0.575, "Normalized Flux", rotation=90, ha="center", va="center", fontsize=18.5, color="#333333")
fig.text(0.054, 0.021, r"T$_{\rm eff}$ = 35000 K, log g= 4.5", ha="left", va="center", fontsize=18, color="#333333")
fig.text(0.517, 0.021, "λ (Å)", ha="center", va="center", fontsize=18, color="#333333")

fig.savefig("out.png", dpi=100)
